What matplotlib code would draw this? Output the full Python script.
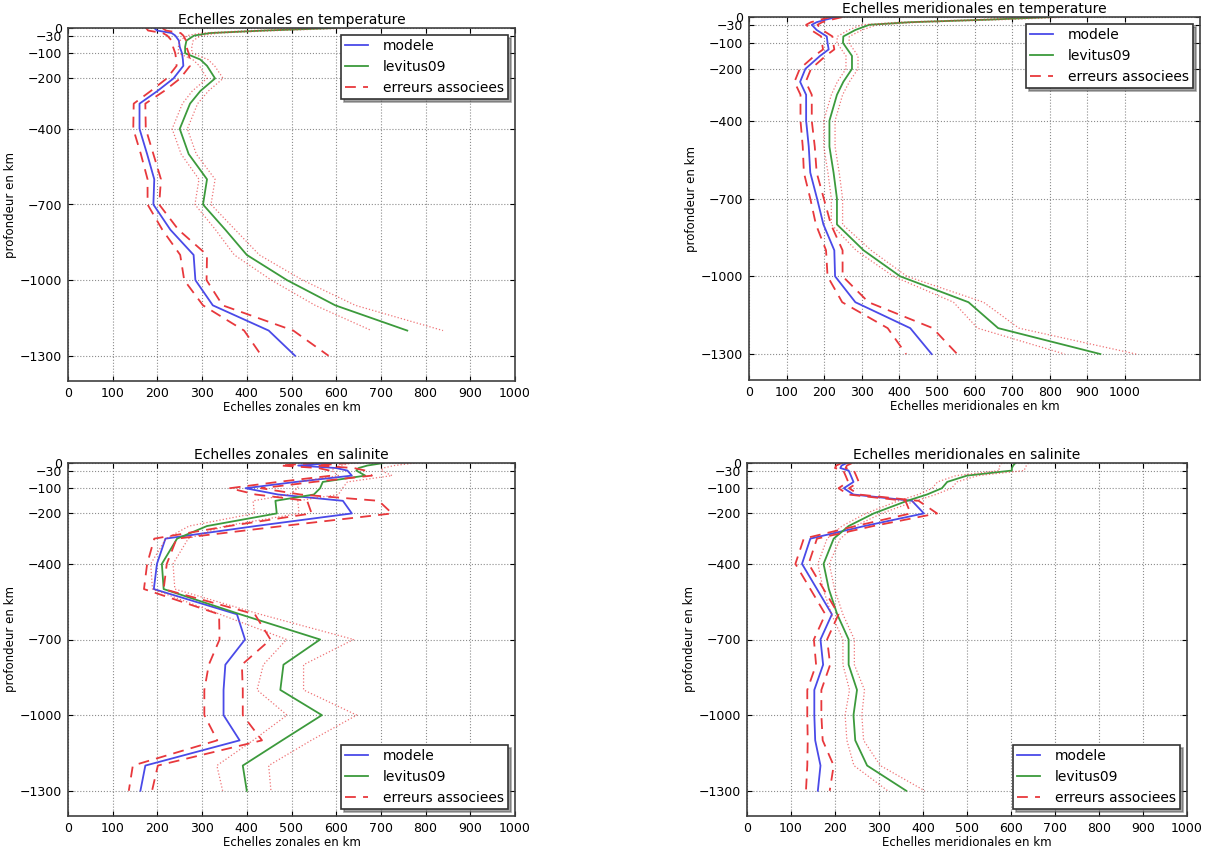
import numpy as np
import matplotlib
matplotlib.use('Agg')
import matplotlib.pyplot as plt

# standard levitus levels (m), labelled "km" on the original plots
depth = [0, 10, 20, 30, 50, 75, 100, 125, 150, 200, 250, 300, 400, 500,
         600, 700, 800, 900, 1000, 1100, 1200, 1300]
yticks = [0, -30, -100, -200, -400, -700, -1000, -1300]

# zonal scales, temperature
mod_zt = [193, 199, 232, 240, 248, 250, 255, 257, 258, 236, 200, 160, 160,
          177, 193, 191, 229, 281, 285, 324, 449, 508]
err_mod_zt = [18, 20, 20, 18, 16, 15, 15, 15, 15, 15, 15, 13, 14, 14, 15,
              13, 18, 30, 25, 22, 55, 75]
lev_zt = [600, 440, 318, 282, 265, 262, 262, 296, 311, 329, 296, 273, 250,
          270, 311, 302, 352, 400, 490, 598, 759]
err_lev_zt = [40, 30, 20, 15, 15, 15, 15, 17, 17, 18, 18, 17, 17, 17, 18,
              18, 22, 28, 35, 45, 80]

# meridional scales, temperature
mod_mt = [234, 205, 180, 167, 180, 207, 209, 212, 189, 150, 136, 152, 152,
          159, 163, 181, 198, 227, 229, 283, 429, 486]
err_mod_mt = [15, 15, 15, 15, 15, 15, 15, 15, 15, 15, 15, 15, 15, 16, 17,
              18, 20, 22, 20, 35, 60, 68]
lev_mt = [810, 640, 430, 320, 283, 251, 250, 262, 274, 274, 251, 234, 214,
          214, 225, 234, 234, 305, 402, 584, 663, 935]
err_lev_mt = [50, 40, 30, 20, 18, 16, 16, 16, 16, 16, 16, 15, 15, 15, 15,
              15, 15, 20, 18, 40, 55, 95]

# zonal scales, salinity
mod_zs = [590, 515, 600, 625, 635, 510, 397, 470, 615, 635, 420, 218, 199,
          192, 378, 396, 352, 348, 348, 384, 173, 162]
err_mod_zs = [40, 40, 40, 40, 45, 40, 35, 50, 80, 90, 60, 25, 22, 22, 40,
              57, 37, 43, 43, 50, 28, 26]
lev_zs = [706, 670, 650, 645, 665, 570, 564, 550, 464, 467, 311, 244, 210,
          214, 385, 564, 482, 475, 568, 479, 391, 400]
err_lev_zs = [70, 60, 55, 55, 60, 55, 50, 55, 50, 50, 40, 25, 25, 25, 45,
              75, 45, 52, 78, 65, 58, 54]

# meridional scales, salinity
mod_ms = [227, 215, 212, 231, 236, 242, 220, 242, 375, 402, 267, 144, 125,
          159, 193, 167, 173, 153, 153, 155, 167, 161]
err_mod_ms = [12, 12, 12, 12, 12, 12, 12, 12, 15, 30, 20, 15, 15, 15, 15,
              15, 16, 16, 16, 17, 30, 27]
lev_ms = [610, 605, 602, 602, 500, 455, 443, 409, 364, 288, 231, 197, 174,
          186, 205, 231, 231, 250, 242, 246, 273, 362]
err_lev_ms = [30, 30, 30, 28, 25, 22, 22, 20, 20, 18, 15, 15, 13, 13, 13,
              13, 13, 17, 19, 19, 30, 42]

c_mod = '#4a4ae8'
c_lev = '#3c9a3c'
c_err = '#e8383c'


def panel(rect, mod, err_mod, lev, err_lev, title, xlabel, legloc, xmax):
    ax = fig.add_axes(rect)
    mod = np.array(mod, dtype=float)
    lev = np.array(lev, dtype=float)
    z_mod = -np.array(depth[:len(mod)])
    z_lev = -np.array(depth[:len(lev)])
    ax.plot(mod, z_mod, color=c_mod, lw=1.3, label='modele')
    ax.plot(lev, z_lev, color=c_lev, lw=1.3, label='levitus09')
    ax.plot(mod - np.array(err_mod), z_mod, '--', color=c_err, lw=1.3,
            dashes=(6, 4), label='erreurs associees')
    ax.plot(mod + np.array(err_mod), z_mod, '--', color=c_err, lw=1.3, dashes=(6, 4))
    ax.plot(lev - np.array(err_lev), z_lev, ':', color=c_err, lw=0.9, alpha=0.7)
    ax.plot(lev + np.array(err_lev), z_lev, ':', color=c_err, lw=0.9, alpha=0.7)

    ax.set_xlim(0, xmax)
    ax.set_ylim(-1400, 0)
    ax.set_xticks(range(0, 1100, 100))
    ax.set_yticks(yticks)
    ax.grid(True, linestyle=':', color='0.55', lw=0.8)
    ax.tick_params(direction='in', top=True, right=True, labelsize=9, pad=4)
    for s in ax.spines.values():
        s.set_linewidth(1.2)
        s.set_color('0.25')
    ax.set_title(title, fontsize=10, pad=3)
    ax.set_xlabel(xlabel, fontsize=8.5, labelpad=1)
    ax.set_ylabel('profondeur en km', fontsize=8.5, labelpad=2)
    leg = ax.legend(loc=legloc, fontsize=10, shadow=True, fancybox=False,
                    framealpha=1, edgecolor='0.2', handlelength=1.6,
                    handletextpad=1.1, labelspacing=0.5, borderpad=0.3)
    leg.get_frame().set_linewidth(1.2)
    return ax


fig = plt.figure(figsize=(12.28, 8.52), dpi=100)

panel([68 / 1228, 1 - 381 / 852, 447 / 1228, 353 / 852], mod_zt, err_mod_zt,
      lev_zt, err_lev_zt, 'Echelles zonales en temperature',
      'Echelles zonales en km', 'upper right', 1000)
panel([749 / 1228, 1 - 380 / 852, 451 / 1228, 363 / 852], mod_mt, err_mod_mt,
      lev_mt, err_lev_mt, 'Echelles meridionales en temperature',
      'Echelles meridionales en km', 'upper right', 1200)
panel([68 / 1228, 1 - 816 / 852, 447 / 1228, 353 / 852], mod_zs, err_mod_zs,
      lev_zs, err_lev_zs, 'Echelles zonales  en salinite',
      'Echelles zonales en km', 'lower right', 1000)
panel([747 / 1228, 1 - 816 / 852, 440 / 1228, 353 / 852], mod_ms, err_mod_ms,
      lev_ms, err_lev_ms, 'Echelles meridionales en salinite',
      'Echelles meridionales en km', 'lower right', 1000)

plt.savefig('out.png', dpi=100)
